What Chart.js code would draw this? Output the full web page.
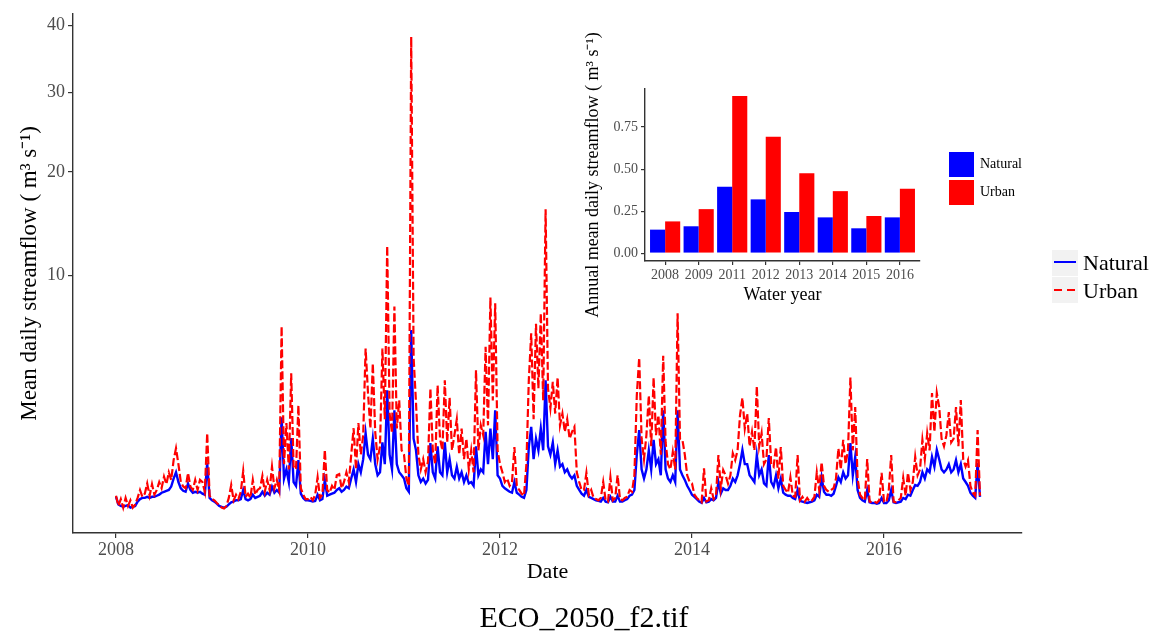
<!DOCTYPE html>
<html>
<head>
<meta charset="utf-8">
<title>ECO_2050_f2</title>
<script src="https://cdn.jsdelivr.net/npm/chart.js@4.4.1/dist/chart.umd.min.js"></script>
<style>
  html, body { margin: 0; padding: 0; background: #fff; }
  body { width: 1155px; height: 637px; position: relative; overflow: hidden; font-family: 'Liberation Serif', 'Times New Roman', serif; }
  #mainChart { position: absolute; left: 0; top: 0; }
  #insetChart { position: absolute; left: 575px; top: 20px; }
  .key { position: absolute; width: 26px; height: 26px; background: #f2f2f2; }
  .key .solid { position: absolute; left: 2px; top: 11px; width: 22px; height: 2px; background: #0000ff; }
  .key .dashed { position: absolute; left: 2px; top: 12px; width: 22px; height: 2px;
    background: repeating-linear-gradient(90deg, #ff0000 0 8px, transparent 8px 13px); }
  .label { position: absolute; white-space: nowrap; color: #000; }
  .big { font-size: 22px; line-height: 22px; }
  .small { font-size: 14px; line-height: 14px; }
  .box { position: absolute; width: 25px; height: 25px; }
  #caption { position: absolute; left: 384px; top: 602px; width: 400px; text-align: center;
    font-size: 30px; line-height: 30px; color: #000; }
</style>
</head>
<body>
<canvas id="mainChart" width="1155" height="637"></canvas>
<canvas id="insetChart" width="465" height="305"></canvas>

<!-- main legend -->
<div class="key" style="left:1052px;top:250px"><div class="solid"></div></div>
<div class="key" style="left:1052px;top:277px"><div class="dashed"></div></div>
<div class="label big" style="left:1083px;top:252px">Natural</div>
<div class="label big" style="left:1083px;top:280px">Urban</div>

<!-- inset legend -->
<div class="box" style="left:949px;top:152px;background:#0000ff"></div>
<div class="box" style="left:949px;top:180px;background:#ff0000"></div>
<div class="label small" style="left:980px;top:157px">Natural</div>
<div class="label small" style="left:980px;top:185px">Urban</div>

<div id="caption">ECO_2050_f2.tif</div>

<script>
// daily streamflow, sampled every ~9 days (40 samples per year), m3/s
const START_YEAR = 2008;
const STEP = 1 / 40;

const NATURAL = [
  0.13,0.07,0.06,0.055,0.06,0.065,0.05,0.055,0.06,0.09,0.11,0.12,0.12,0.13,0.12,0.13,0.13,0.14,0.15,0.17,0.18,0.19,0.2,0.24,0.35,0.45,0.3,0.22,0.19,0.18,0.28,0.2,0.17,0.18,0.17,0.18,0.16,0.15,0.62,0.12,
  0.10,0.09,0.075,0.06,0.055,0.05,0.055,0.07,0.085,0.09,0.1,0.1,0.11,0.2,0.11,0.1,0.11,0.15,0.12,0.13,0.14,0.18,0.14,0.17,0.15,0.24,0.17,0.2,0.17,1.87,0.35,0.5,0.3,1.22,0.3,0.25,0.68,0.16,0.12,0.1,
  0.1,0.095,0.09,0.095,0.15,0.1,0.11,0.33,0.14,0.15,0.16,0.17,0.2,0.22,0.18,0.2,0.24,0.22,0.35,0.5,0.3,0.6,0.45,0.7,1.36,0.8,0.7,1.2,0.6,0.4,0.45,1.1,0.6,2.92,0.8,0.5,2.12,0.6,0.45,0.4,
  0.35,0.22,0.18,6.1,1.2,0.9,0.4,0.3,0.35,0.28,0.33,1.08,0.45,0.35,1.0,0.45,0.4,1.1,0.45,0.7,0.4,0.35,0.55,0.35,0.45,0.3,0.4,0.28,0.3,0.25,1.0,0.4,0.5,0.45,1.4,0.6,1.5,0.7,2.12,0.4,
  0.35,0.25,0.22,0.2,0.18,0.17,0.3,0.17,0.15,0.13,0.12,0.2,0.98,1.55,0.7,1.2,0.9,1.5,0.9,3.37,1.0,0.8,1.1,0.6,0.9,0.55,0.6,0.45,0.5,0.4,0.35,0.4,0.25,0.2,0.16,0.14,0.2,0.13,0.12,0.11,
  0.1,0.095,0.09,0.12,0.09,0.085,0.13,0.09,0.09,0.14,0.09,0.09,0.1,0.11,0.14,0.15,0.2,0.8,1.45,0.5,0.35,0.5,0.9,0.5,1.17,0.6,0.7,0.4,2.12,0.5,0.35,0.3,0.4,0.3,2.12,0.5,0.4,0.33,0.25,0.2,
  0.15,0.13,0.11,0.09,0.08,0.12,0.085,0.09,0.11,0.1,0.12,0.3,0.16,0.22,0.2,0.2,0.25,0.35,0.3,0.4,0.6,0.91,0.6,0.6,0.4,0.35,0.3,0.79,0.4,0.5,0.28,0.25,0.79,0.3,0.24,0.4,0.22,0.35,0.17,0.15,
  0.14,0.14,0.12,0.11,0.2,0.095,0.09,0.085,0.08,0.085,0.09,0.1,0.15,0.13,0.37,0.18,0.15,0.15,0.14,0.16,0.25,0.37,0.3,0.45,0.35,0.4,1.08,0.4,0.75,0.2,0.12,0.1,0.09,0.2,0.085,0.08,0.08,0.075,0.08,0.12,
  0.08,0.08,0.1,0.2,0.085,0.08,0.085,0.09,0.12,0.11,0.15,0.14,0.2,0.26,0.25,0.3,0.45,0.35,0.5,0.45,0.75,0.55,0.91,0.7,0.5,0.45,0.5,0.6,0.45,0.5,0.68,0.45,0.6,0.35,0.3,0.25,0.17,0.14,0.12,0.62,
  0.13
];

const URBAN = [
  0.14,0.06,0.11,0.05,0.12,0.06,0.10,0.05,0.07,0.12,0.20,0.13,0.16,0.28,0.14,0.27,0.15,0.2,0.30,0.22,0.38,0.27,0.45,0.33,0.68,0.95,0.6,0.3,0.24,0.22,0.44,0.24,0.2,0.33,0.2,0.33,0.3,0.18,1.36,0.14,
  0.11,0.1,0.08,0.065,0.05,0.045,0.06,0.12,0.26,0.1,0.15,0.11,0.18,0.47,0.13,0.16,0.12,0.33,0.15,0.2,0.22,0.39,0.18,0.33,0.2,0.55,0.22,0.33,0.2,6.35,0.6,1.67,0.5,3.7,0.55,0.5,2.31,0.22,0.15,0.11,
  0.11,0.13,0.1,0.15,0.37,0.12,0.15,0.91,0.2,0.17,0.25,0.2,0.4,0.42,0.22,0.3,0.45,0.3,0.79,1.51,0.5,1.67,0.8,1.3,5.0,2.8,1.5,4.2,1.4,0.7,1.0,5.0,1.8,12.5,2.0,1.36,7.67,1.5,2.5,0.9,
  0.8,0.35,0.25,38.2,4.5,2.4,0.8,0.5,0.7,0.45,0.65,3.0,0.9,0.6,3.14,1.2,0.9,3.37,1.1,2.6,0.9,1.3,1.8,0.8,1.5,0.7,1.2,0.5,0.9,0.45,3.85,0.9,1.6,1.3,5.1,1.6,8.3,2.5,7.9,0.9,
  0.6,0.45,0.3,0.35,0.25,0.3,0.98,0.25,0.2,0.16,0.14,0.6,3.37,5.9,1.8,6.5,3.0,7.2,2.5,16.0,3.0,2.2,3.3,2.0,3.5,1.6,2.0,1.4,1.8,1.2,1.4,1.55,0.45,0.3,0.2,0.2,0.44,0.15,0.2,0.12,
  0.11,0.1,0.12,0.3,0.1,0.09,0.37,0.1,0.12,0.4,0.11,0.1,0.12,0.13,0.2,0.18,0.4,2.71,4.5,1.2,0.7,1.3,2.7,1.0,3.5,1.3,1.94,0.8,4.6,1.1,0.6,0.5,0.86,0.5,7.2,1.2,1.17,0.8,0.4,0.3,
  0.28,0.15,0.12,0.1,0.085,0.52,0.09,0.1,0.22,0.11,0.14,0.79,0.22,0.49,0.4,0.28,0.4,0.83,0.68,0.9,1.94,2.6,1.5,2.0,1.0,1.4,0.9,3.1,1.0,1.36,0.6,0.7,1.84,0.6,0.55,0.98,0.35,0.98,0.25,0.2,
  0.17,0.37,0.14,0.13,0.79,0.1,0.13,0.09,0.12,0.09,0.1,0.13,0.45,0.2,0.64,0.25,0.2,0.18,0.2,0.22,0.35,0.95,0.5,1.17,0.6,0.9,3.5,0.9,2.24,0.35,0.15,0.12,0.1,0.7,0.09,0.085,0.09,0.08,0.1,0.44,
  0.09,0.085,0.2,0.79,0.09,0.085,0.1,0.12,0.36,0.14,0.44,0.2,0.3,0.75,0.4,0.5,1.17,0.7,1.36,0.9,2.8,1.4,2.8,2.24,1.2,1.0,1.3,2.05,1.1,1.2,2.24,1.0,2.51,0.7,0.55,0.68,0.25,0.17,0.14,1.45,
  0.14
];

const X_TICKS = [2008, 2010, 2012, 2014, 2016];
const Y_TICKS = [10, 20, 30, 40];

// inset: annual mean daily streamflow by water year
const WATER_YEARS = ["2008", "2009", "2011", "2012", "2013", "2014", "2015", "2016"];
const NAT_ANNUAL = [0.140, 0.160, 0.395, 0.320, 0.245, 0.213, 0.148, 0.213];
const URB_ANNUAL = [0.189, 0.262, 0.935, 0.693, 0.476, 0.369, 0.221, 0.383];
const INSET_Y_TICKS = [0, 0.25, 0.5, 0.75];

const FONT = "'Liberation Serif', 'Times New Roman', serif";
Chart.defaults.font.family = FONT;
Chart.defaults.color = "#4d4d4d";

// square-root axis like ggplot's scale_y_sqrt
function sroot(v) {
  return v < 0 ? -Math.sqrt(-v) : Math.sqrt(v);
}
class SqrtScale extends Chart.LinearScale {
  static id = "sqrt";
  static defaults = Chart.LinearScale.defaults;
  buildTicks() {
    return Y_TICKS.map((v) => ({ value: v }));
  }
  getPixelForValue(value) {
    const lo = sroot(this.min);
    const hi = sroot(this.max);
    return this.getPixelForDecimal((sroot(value) - lo) / (hi - lo));
  }
  getValueForPixel(pixel) {
    const lo = sroot(this.min);
    const hi = sroot(this.max);
    const s = lo + this.getDecimalForPixel(pixel) * (hi - lo);
    return s < 0 ? -s * s : s * s;
  }
}
Chart.register(SqrtScale);

const dates = NATURAL.map((_, i) => START_YEAR + i * STEP);
const axisGrid = { drawOnChartArea: false, drawTicks: true, tickLength: 5, color: "#333", lineWidth: 1.2 };
const axisBorder = { display: true, color: "#333", width: 1.4 };

new Chart(document.getElementById("mainChart"), {
  type: "line",
  data: {
    datasets: [
      {
        label: "Natural",
        data: dates.map((t, i) => ({ x: t, y: NATURAL[i] })),
        borderColor: "#0000ff",
        borderWidth: 2.4,
        pointRadius: 0,
        tension: 0,
        order: 1,
      },
      {
        label: "Urban",
        data: dates.map((t, i) => ({ x: t, y: URBAN[i] })),
        borderColor: "#ff0000",
        borderWidth: 2.2,
        borderDash: [8, 3],
        pointRadius: 0,
        tension: 0,
        order: 0,
      },
    ],
  },
  options: {
    responsive: false,
    animation: false,
    layout: { padding: { top: 13, right: 133, left: 0, bottom: 0 } },
    plugins: { legend: { display: false }, tooltip: { enabled: false } },
    scales: {
      x: {
        type: "linear",
        min: 2007.552,
        max: 2017.4375,
        bounds: "data",
        afterBuildTicks: (s) => { s.ticks = X_TICKS.map((v) => ({ value: v })); },
        afterFit: (s) => { s.height = 104; },
        grid: axisGrid,
        border: axisBorder,
        ticks: { color: "#4d4d4d", font: { size: 18 }, padding: 1, maxRotation: 0, callback: (v) => String(v) },
        title: { display: true, text: "Date", color: "#000", font: { size: 22 }, padding: { top: 0, bottom: 52 } },
      },
      y: {
        type: "sqrt",
        min: -0.0095,
        max: 41.9,
        bounds: "data",
        afterFit: (s) => { s.width = 73; },
        grid: axisGrid,
        border: axisBorder,
        ticks: { color: "#4d4d4d", font: { size: 18 }, padding: 3, callback: (v) => String(v) },
        title: { display: true, text: "Mean daily streamflow ( m³ s⁻¹)", color: "#000", font: { size: 23 }, padding: { top: 16, bottom: 0 } },
      },
    },
  },
});

new Chart(document.getElementById("insetChart"), {
  type: "bar",
  data: {
    datasets: [
      {
        label: "Natural",
        data: NAT_ANNUAL.map((v, i) => ({ x: i, y: v })),
        backgroundColor: "#0000ff",
        categoryPercentage: 0.9,
        barPercentage: 1.0,
        borderWidth: 0,
      },
      {
        label: "Urban",
        data: URB_ANNUAL.map((v, i) => ({ x: i, y: v })),
        backgroundColor: "#ff0000",
        categoryPercentage: 0.9,
        barPercentage: 1.0,
        borderWidth: 0,
      },
    ],
  },
  options: {
    responsive: false,
    animation: false,
    layout: { padding: { top: 69, right: 120, left: 0, bottom: 0 } },
    plugins: { legend: { display: false }, tooltip: { enabled: false } },
    scales: {
      x: {
        type: "linear",
        min: -0.6,
        max: 7.6,
        offset: false,
        bounds: "data",
        afterBuildTicks: (s) => { s.ticks = WATER_YEARS.map((_, i) => ({ value: i })); },
        afterFit: (s) => { s.height = 64; },
        grid: { drawOnChartArea: false, drawTicks: true, tickLength: 4, color: "#333", lineWidth: 1.2, offset: false },
        border: axisBorder,
        ticks: { color: "#4d4d4d", font: { size: 14 }, padding: 2, maxRotation: 0, autoSkip: false, callback: (v) => WATER_YEARS[v] },
        title: { display: true, text: "Water year", color: "#000", font: { size: 18 }, padding: { top: 0, bottom: 19 } },
      },
      y: {
        min: -0.0465,
        max: 0.9765,
        bounds: "data",
        afterBuildTicks: (s) => { s.ticks = INSET_Y_TICKS.map((v) => ({ value: v })); },
        afterFit: (s) => { s.width = 70; },
        grid: { drawOnChartArea: false, drawTicks: true, tickLength: 4, color: "#333", lineWidth: 1.2 },
        border: axisBorder,
        ticks: { color: "#4d4d4d", font: { size: 14 }, padding: 3, callback: (v) => v.toFixed(2) },
        title: { display: true, text: "Annual mean daily streamflow ( m³ s⁻¹)", color: "#000", font: { size: 18 }, padding: { top: 7, bottom: 0 } },
      },
    },
  },
});
</script>
</body>
</html>
